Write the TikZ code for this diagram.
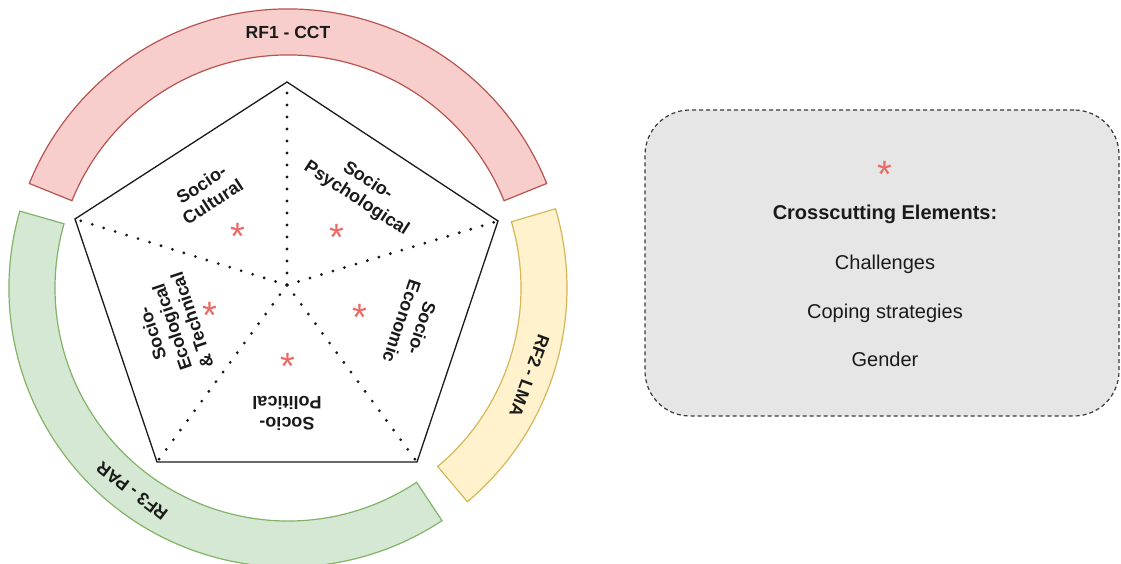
\documentclass[tikz,border=0pt]{standalone}
\usepackage{fontspec}
\setmainfont{Liberation Sans}
\definecolor{redfill}{HTML}{F8CECC}
\definecolor{redline}{HTML}{B85450}
\definecolor{yelfill}{HTML}{FFF2CC}
\definecolor{yelline}{HTML}{D6B656}
\definecolor{grnfill}{HTML}{D5E8D4}
\definecolor{grnline}{HTML}{82B366}
\definecolor{astred}{HTML}{EA6B66}
\definecolor{boxfill}{HTML}{E6E6E6}
\definecolor{boxline}{HTML}{3A3A3A}
\definecolor{ink}{HTML}{1A1A1A}
\begin{document}
\begin{tikzpicture}[x=1pt,y=1pt,
  band/.style={line width=1.2pt},
  rflabel/.style={font=\bfseries\fontsize{17.5}{20}\selectfont, text=ink, inner sep=0},
  dimlabel/.style={font=\bfseries\fontsize{18}{21}\selectfont, text=ink, align=center, inner sep=0},
  outline/.style={line width=1.3pt, line join=miter, draw=ink},
  spoke/.style={line width=3.1pt, line cap=round, dash pattern=on 0pt off 12pt, draw=ink},
  ast/.style={font=\fontsize{38}{38}\selectfont, text=astred, anchor=base, yshift=-21.8pt, inner sep=0},
  xbox/.style={draw=boxline, fill=boxfill, line width=1.2pt, dash pattern=on 4pt off 3pt,
    rounded corners=45pt, minimum width=474pt, minimum height=306pt, inner sep=0},
  boxtext/.style={font=\fontsize{20}{24}\selectfont, text=ink, inner sep=0, text height=0.72em, text depth=0.21em},
]
% canvas
\fill[white] (0,0) rectangle (1121,563);
\useasboundingbox (0,0) rectangle (1121,563);

% ring of research framings
\coordinate (o) at (288,275);
\draw[band, draw=redline, fill=redfill]
  ([shift={(22:279)}]o) arc[start angle=22, end angle=158, radius=279pt]
  -- ([shift={(158:233)}]o) arc[start angle=158, end angle=22, radius=233pt] -- cycle;
\draw[band, draw=yelline, fill=yelfill]
  ([shift={(-50:279)}]o) arc[start angle=-50, end angle=16.5, radius=279pt]
  -- ([shift={(16.5:233)}]o) arc[start angle=16.5, end angle=-50, radius=233pt] -- cycle;
\draw[band, draw=grnline, fill=grnfill]
  ([shift={(164:279)}]o) arc[start angle=164, end angle=303.5, radius=279pt]
  -- ([shift={(303.5:233)}]o) arc[start angle=303.5, end angle=164, radius=233pt] -- cycle;

\node[rflabel] (rf1) at ([shift={(90:256)}]o) {RF1 - CCT};
\node[rflabel, rotate=-110] (rf2) at ([shift={(-20:257)}]o) {RF2 - LMA};
\node[rflabel, rotate=142.5] (rf3) at ([shift={(232.5:256)}]o) {RF3 - PAR};

% pentagon of dimensions
\coordinate (c) at (287,278);
\coordinate (p1) at (287,481);
\coordinate (p2) at (498,342);
\coordinate (p3) at (417,101);
\coordinate (p4) at (157,101);
\coordinate (p5) at (75,344);
\draw[outline] (p1) -- (p2) -- (p3) -- (p4) -- (p5) -- cycle;
\foreach \v in {p1,p2,p3,p4,p5} \draw[spoke] (c) -- (\v);

\node[dimlabel, rotate=33] (d1) at (207,370) {Socio-\\Cultural};
\node[dimlabel, rotate=-33] (d2) at (362,373) {Socio-\\Psychological};
\node[dimlabel, rotate=-108.6] (d3) at (412,238) {Socio-\\Economic};
\node[dimlabel, rotate=180] (d4) at (287,150) {Socio-\\Political};
\node[dimlabel, rotate=108.6] (d5) at (172,236) {Socio-\\Ecological\\\& Technical};

\node[ast] (a1) at (238,335) {*};
\node[ast] (a2) at (337,334) {*};
\node[ast] (a3) at (360,254) {*};
\node[ast] (a4) at (288,205) {*};
\node[ast] (a5) at (210,256) {*};

% legend of crosscutting elements
\node[xbox] (box) at (882,300) {};
\node[ast] (a6) at (885,397) {*};
\node[boxtext, font=\bfseries\fontsize{20}{24}\selectfont] (t0) at (885,346) {Crosscutting Elements:};
\node[boxtext] (t1) at (885,296) {Challenges};
\node[boxtext] (t2) at (885,247) {Coping strategies};
\node[boxtext] (t3) at (885,199) {Gender};
\end{tikzpicture}
\end{document}
